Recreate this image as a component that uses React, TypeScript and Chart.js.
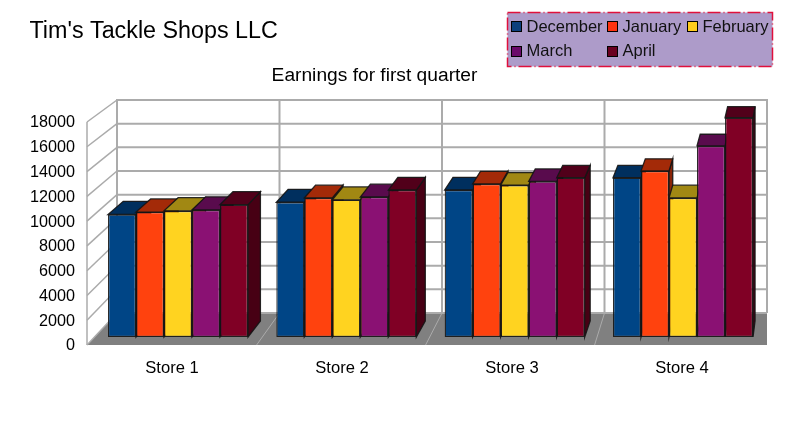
import React, { useEffect, useRef } from 'react';
import { Chart, registerables } from 'chart.js';

Chart.register(...registerables);

const stores = ['Store 1', 'Store 2', 'Store 3', 'Store 4'];
const months = ['December', 'January', 'February', 'March', 'April'];
const yTicks = [0, 2000, 4000, 6000, 8000, 10000, 12000, 14000, 16000, 18000];

const december = [10000, 11000, 12000, 13000];
const january = [10200, 11350, 12500, 13550];
const february = [10300, 11200, 12400, 11350];
const march = [10370, 11430, 12700, 15600];
const april = [10800, 12000, 13000, 17900];
const seriesValues = [december, january, february, march, april];

const frontColors = ['#004586', '#ff420e', '#ffd320', '#8a1173', '#800025'];
const topColors = ['#002f5e', '#a32a08', '#a18813', '#590b4d', '#51001a'];
const sideColors = ['#002a52', '#8a2407', '#8a7310', '#4b0a42', '#470014'];
const legendColors = ['#0b3f7c', '#ff3210', '#ffcc1c', '#6a0a6a', '#6a0020'];

const FONT = '"Liberation Sans", sans-serif';
const GRID = '#ababab';
const OUTLINE = 'rgba(20,20,20,0.9)';

// everything in depth runs towards one vanishing point
const depthPoint = (x: number, y: number) => [
  x + 0.0205 * (852 - x),
  y - 0.0228 * (y + 365),
];

const poly = (ctx: CanvasRenderingContext2D, pts: number[][]) => {
  ctx.beginPath();
  pts.forEach((p, i) => (i ? ctx.lineTo(p[0], p[1]) : ctx.moveTo(p[0], p[1])));
  ctx.closePath();
};

const line = (ctx: CanvasRenderingContext2D, x1: number, y1: number, x2: number, y2: number) => {
  ctx.beginPath();
  ctx.moveTo(x1, y1);
  ctx.lineTo(x2, y2);
  ctx.stroke();
};

const wallsPlugin = {
  id: 'walls',
  beforeDatasetsDraw(chart: any) {
    const ctx = chart.ctx;
    const { left, right, bottom } = chart.chartArea;
    const yFront = chart.scales.y;
    const yBack = chart.scales.yBack;
    const backLeft = 117;
    const backBottom = yBack.getPixelForValue(0);
    ctx.save();

    // floor
    ctx.fillStyle = '#808080';
    poly(ctx, [
      [backLeft, backBottom],
      [right, backBottom],
      [right, bottom],
      [left, bottom],
    ]);
    ctx.fill();

    ctx.strokeStyle = GRID;
    ctx.lineWidth = 1;
    const step = (right - backLeft) / stores.length;
    for (let i = 1; i < stores.length; i++) {
      const x = backLeft + step * i;
      line(ctx, x, backBottom, x - 0.04 * (852 - x), bottom);
    }

    // back wall and left wall lines
    ctx.lineWidth = 2;
    yTicks.forEach((t) => {
      const y = yBack.getPixelForValue(t);
      line(ctx, backLeft, y, right, y);
    });
    for (let i = 0; i <= stores.length; i++) {
      const x = backLeft + step * i;
      line(ctx, x, yBack.getPixelForValue(18000) - 1, x, backBottom);
    }
    ctx.lineWidth = 1.5;
    yTicks.forEach((t) => {
      line(ctx, left, yFront.getPixelForValue(t), backLeft, yBack.getPixelForValue(t));
    });
    line(ctx, left, yFront.getPixelForValue(18000), left, bottom);

    // side and top of each bar, left to right; the fronts come later and cover them
    ctx.lineWidth = 1.3;
    ctx.strokeStyle = OUTLINE;
    months.forEach((_, i) => {
      chart.getDatasetMeta(i).data.forEach((bar: any) => {
        const { x, y, width, base } = bar.getProps(['x', 'y', 'width', 'base'], true);
        const l = x - width / 2;
        const r = x + width / 2;
        ctx.fillStyle = sideColors[i];
        poly(ctx, [[r, y], depthPoint(r, y), depthPoint(r, base), [r, base]]);
        ctx.fill();
        ctx.stroke();
        ctx.fillStyle = topColors[i];
        poly(ctx, [[l, y], [r, y], depthPoint(r, y), depthPoint(l, y)]);
        ctx.fill();
        ctx.stroke();
      });
    });
    ctx.restore();
  },
};

const textPlugin = {
  id: 'textBlocks',
  afterDraw(chart: any) {
    const ctx = chart.ctx;
    ctx.save();
    ctx.textBaseline = 'middle';
    ctx.fillStyle = '#000';
    ctx.font = `23.3px ${FONT}`;
    ctx.fillText("Tim's Tackle Shops LLC", 29.5, 32);
    ctx.font = `19.2px ${FONT}`;
    ctx.textAlign = 'center';
    ctx.fillText('Earnings for first quarter', 374.5, 76);
    ctx.textAlign = 'left';

    // legend box
    ctx.fillStyle = '#ad9bc9';
    ctx.fillRect(507.5, 12.5, 265, 54);
    ctx.strokeStyle = '#e0103c';
    ctx.lineWidth = 1.5;
    ctx.setLineDash([13, 3, 1, 3]);
    ctx.strokeRect(507.5, 12.5, 265, 54);
    ctx.setLineDash([]);

    const colX = [511.5, 607.5, 687.5];
    ctx.font = `16.5px ${FONT}`;
    ctx.lineWidth = 1;
    months.forEach((name, i) => {
      const x = colX[i % 3];
      const y = i < 3 ? 21.5 : 46.5;
      ctx.fillStyle = legendColors[i];
      ctx.fillRect(x, y, 10, 10);
      ctx.strokeStyle = '#000';
      ctx.strokeRect(x, y, 10, 10);
      ctx.fillStyle = '#111';
      ctx.fillText(name, x + 15, y + (i < 3 ? 5.5 : 4.5));
    });
    ctx.restore();
  },
};

const App: React.FC = () => {
  const chartRef = useRef<HTMLCanvasElement>(null);

  useEffect(() => {
    if (!chartRef.current) return;
    const chart = new Chart(chartRef.current, {
      type: 'bar',
      data: {
        labels: stores,
        datasets: months.map((name, i) => ({
          label: name,
          data: seriesValues[i].map((v, k) => ({ x: k + 1, y: v })),
          xAxisID: 'xBars',
          yAxisID: 'yBars',
          backgroundColor: frontColors[i],
          borderColor: OUTLINE,
          borderWidth: 1.3,
          borderSkipped: false,
          categoryPercentage: 0.832,
          barPercentage: 1,
        })) as any,
      },
      options: {
        responsive: false,
        animation: false,
        layout: { padding: { top: 100, right: 20 } },
        plugins: { legend: { display: false }, title: { display: false }, tooltip: { enabled: false } },
        scales: {
          x: {
            type: 'category',
            grid: { display: false },
            border: { display: false },
            ticks: { color: '#000', padding: 5, font: { family: FONT, size: 16.6 } },
            afterFit: (s: any) => { s.height = 98; },
          },
          y: {
            position: 'left',
            min: 0,
            max: 19776,
            grid: { display: false },
            border: { display: false },
            afterBuildTicks: (s: any) => { s.ticks = yTicks.map((value) => ({ value })); },
            ticks: {
              autoSkip: false,
              padding: 4,
              labelOffset: 1,
              color: '#000',
              font: { family: FONT, size: 16.2 },
              callback: (v: any) => String(v),
            },
            afterFit: (s: any) => { s.width = 87; },
          },
          // the bars stand inside the box, so they get their own scales
          xBars: {
            type: 'linear',
            display: false,
            min: 0.4594,
            max: 4.499,
            offset: false,
            grid: { display: false },
            afterBuildTicks: (s: any) => { s.ticks = stores.map((_, i) => ({ value: i + 1 })); },
          },
          yBars: { type: 'linear', display: false, min: -653, max: 19347, grid: { display: false } },
          yBack: { type: 'linear', display: false, min: -2704, max: 18000, grid: { display: false } },
        },
      } as any,
      plugins: [wallsPlugin, textPlugin],
    });
    return () => chart.destroy();
  }, []);

  return (
    <div style={{ position: 'absolute', left: 0, top: 0, width: 787, height: 443 }}>
      <canvas ref={chartRef} width={787} height={443} style={{ display: 'block' }} />
    </div>
  );
};

export default App;
